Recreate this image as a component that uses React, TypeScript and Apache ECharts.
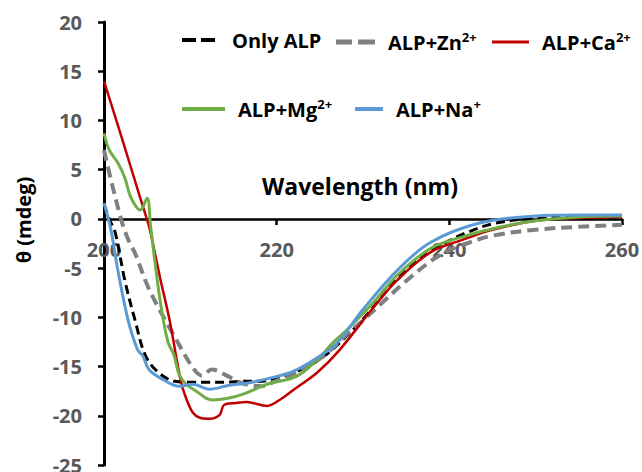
import React, { useEffect, useRef } from "react";
import * as echarts from "echarts";

const seriesNames = ["Only ALP", "ALP+Zn2+", "ALP+Ca2+", "ALP+Mg2+", "ALP+Na+"];

const xTicks = [200, 220, 240, 260];
const yTicks = [-25, -20, -15, -10, -5, 0, 5, 10, 15, 20];

const alpX = [200, 200.6, 201.3, 202.4, 203.6, 204.8, 206.3, 208.2, 210, 212, 214, 216, 218, 220, 222, 224, 226, 228, 230, 232, 234, 236, 238, 240, 242, 245, 250, 255, 260];
const alpY = [1.5, 0, -1.4, -6.2, -10.3, -13.9, -15.6, -16.5, -16.6, -16.6, -16.6, -16.5, -16.5, -16.2, -15.6, -14.8, -13.6, -12, -10.2, -8.1, -6.0, -4.5, -3.2, -2.2, -1.4, -0.5, 0.1, 0.2, 0.2];

const znX = [200, 200.8, 202, 202.8, 203.6, 205.1, 206.6, 208.2, 210.2, 211.3, 212.5, 214.4, 216, 218.3, 219.8, 222.1, 224, 225.9, 228.3, 230, 232, 235, 238, 240, 242, 245, 250, 255, 260];
const znY = [7.0, 4.0, -0.1, -2.1, -3.5, -6.9, -9.5, -12.0, -15.0, -15.9, -15.3, -16.0, -16.7, -17.0, -16.5, -15.7, -14.8, -13.6, -11.6, -10.3, -8.7, -6.3, -4.2, -3.2, -2.5, -1.7, -1.1, -0.8, -0.6];

const caX = [200, 202, 204, 205.1, 205.4, 206.5, 207.6, 208.9, 209.5, 210.3, 211.1, 212.2, 213.4, 213.9, 215.3, 216.5, 218.9, 220.5, 221.9, 224.7, 227.3, 231.2, 234, 237.8, 241.6, 245, 250, 255, 260];
const caY = [14.0, 8.4, 2.7, -0.4, -1.4, -6.0, -10.3, -16.5, -18.2, -19.7, -20.2, -20.3, -19.9, -18.9, -18.7, -18.6, -19.0, -18.3, -17.4, -15.6, -13.3, -9.0, -6.2, -3.4, -2.1, -1.1, -0.2, 0.1, 0.2];

const mgX = [200, 200.6, 201.6, 202.4, 203.1, 204.2, 205.0, 205.4, 206.5, 207.4, 208.1, 208.7, 209.5, 210.7, 211.8, 212.6, 214.5, 216.1, 218.9, 222.3, 224.7, 226.5, 228, 231.2, 234, 237.8, 241.6, 246, 250, 255, 260];
const mgY = [8.7, 7.0, 5.7, 4.2, 2.2, 0.9, 2.1, -0.8, -8.3, -12.5, -13.8, -15.8, -16.8, -17.5, -18.2, -18.4, -18.2, -17.8, -16.8, -16.0, -14.3, -12.6, -11.4, -8.5, -5.7, -3.0, -1.8, -0.8, -0.2, 0.2, 0.3];

const naX = [200, 200.8, 201.6, 202.8, 203.9, 204.5, 205.2, 206.8, 208.7, 210.3, 212.2, 214.5, 216.5, 219.6, 221.9, 224.7, 227, 230, 234, 237.8, 243.6, 250, 255, 260];
const naY = [1.6, -1.1, -5.2, -10.3, -13.3, -13.9, -15.3, -16.3, -17.0, -16.8, -17.3, -16.9, -16.7, -16.1, -15.5, -14.1, -12.6, -9.2, -5.2, -2.4, -0.4, 0.3, 0.4, 0.4];

const FONT = "Open Sans";

function pairs(xs: number[], ys: number[]) {
  return xs.map((x, i) => [x, ys[i]]);
}

const richStyles = {
  b: { fontSize: 20, fontWeight: "bold", color: "#000", fontFamily: FONT, lineHeight: 24 },
  s: { fontSize: 13, fontWeight: "bold", color: "#000", fontFamily: FONT, lineHeight: 24, verticalAlign: "top" },
};

function legendLabel(name: string) {
  const m = name.match(/^(ALP\+[A-Za-z]+)(\d?\+)$/);
  if (m) return `{b|${m[1]}}{s|${m[2]}}`;
  return `{b|${name}}`;
}

export default function App() {
  const ref = useRef<HTMLDivElement>(null);
  useEffect(() => {
    if (!ref.current) return;
    const chart = echarts.init(ref.current, null, { renderer: "svg" });
    const lineDefs = [
      { name: seriesNames[0], data: pairs(alpX, alpY), color: "#000000", width: 3, type: [9, 5] },
      { name: seriesNames[1], data: pairs(znX, znY), color: "#808080", width: 4, type: [11, 6] },
      { name: seriesNames[2], data: pairs(caX, caY), color: "#C00000", width: 2.5, type: "solid" },
      { name: seriesNames[3], data: pairs(mgX, mgY), color: "#70AD47", width: 3, type: "solid" },
      { name: seriesNames[4], data: pairs(naX, naY), color: "#5B9BD5", width: 3, type: "solid" },
    ];
    const legendDefs = [
      { left: 182, top: 30, w: 33, h: 4, icon: "path://M0,0h14v4h-14z M19,0h14v4h-14z", gap: 12 },
      { left: 336, top: 30, w: 39, h: 5, icon: "path://M0,0h16v5h-16z M22,0h17v5h-17z", gap: 8 },
      { left: 492, top: 30, w: 37, h: 3, icon: "rect", gap: 8 },
      { left: 182, top: 97, w: 43, h: 4, icon: "rect", gap: 8 },
      { left: 355, top: 97, w: 28, h: 4, icon: "rect", gap: 8 },
    ];
    chart.setOption({
      animation: false,
      grid: { left: 104, right: 20, top: 22, bottom: 7, containLabel: false, outerBoundsMode: "none" },
      legend: lineDefs.map((d, i) => ({
        data: [d.name],
        left: legendDefs[i].left,
        top: legendDefs[i].top,
        padding: 0,
        itemWidth: legendDefs[i].w,
        itemHeight: legendDefs[i].h,
        icon: legendDefs[i].icon,
        itemStyle: { color: d.color, borderWidth: 0 },
        formatter: (n: string) => legendLabel(n),
        textStyle: { rich: richStyles, padding: [0, 0, 0, legendDefs[i].gap] },
      })),
      xAxis: {
        type: "value",
        min: xTicks[0],
        max: xTicks[xTicks.length - 1],
        interval: 20,
        offset: -246,
        axisLine: { onZero: false, lineStyle: { color: "#000", width: 2.5 } },
        axisTick: { show: true, length: 6, lineStyle: { color: "#000", width: 2.5 } },
        axisLabel: { margin: 20, fontSize: 20, fontWeight: "bold", color: "#595959", fontFamily: FONT },
        splitLine: { show: false },
      },
      yAxis: {
        type: "value",
        min: yTicks[0],
        max: yTicks[yTicks.length - 1],
        interval: 5,
        axisLine: { show: true, onZero: false, lineStyle: { color: "#000", width: 3 } },
        axisTick: { show: true, length: 6, lineStyle: { color: "#000", width: 2.5 } },
        axisLabel: { margin: 22, fontSize: 20, fontWeight: "bold", color: "#595959", fontFamily: FONT },
        splitLine: { show: false },
      },
      graphic: [
        {
          type: "text",
          x: 360,
          y: 186,
          style: { text: "Wavelength (nm)", fontSize: 23, fontWeight: "bold", fill: "#000", fontFamily: FONT, textAlign: "center", textVerticalAlign: "middle" },
        },
        {
          type: "text",
          x: 23,
          y: 220,
          rotation: Math.PI / 2,
          style: { text: "θ (mdeg)", fontSize: 20, fontWeight: "bold", fill: "#000", fontFamily: FONT, textAlign: "center", textVerticalAlign: "middle" },
        },
      ],
      series: lineDefs.map((d) => ({
        name: d.name,
        type: "line",
        data: d.data,
        smooth: 0.35,
        symbol: "none",
        showSymbol: false,
        color: d.color,
        lineStyle: { color: d.color, width: d.width, type: d.type },
      })),
    });
    return () => chart.dispose();
  }, []);
  return <div ref={ref} style={{ width: 642, height: 472, position: "absolute", left: 0, top: 0 }} />;
}
